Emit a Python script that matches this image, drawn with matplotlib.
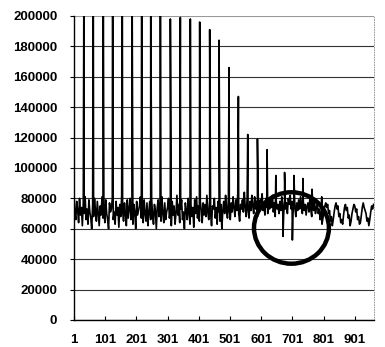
import numpy as np
import matplotlib
matplotlib.use("Agg")
import matplotlib.pyplot as plt
from matplotlib.patches import Ellipse

# daily series, baseline read every 3rd day (values in thousands)
base_days = np.arange(1, 962, 3)
base_k = [
    85, 70, 66, 78, 72, 64, 80, 69, 74, 62,
    77, 70, 81, 66, 73, 63, 79, 71, 67, 60,
    76, 68, 80, 72, 65, 78, 70, 62, 75, 69,
    81, 67, 74, 64, 79, 70, 66, 60, 77, 71,
    73, 80, 66, 71, 63, 78, 69, 74, 61, 76,
    68, 82, 72, 65, 77, 70, 62, 79, 67, 73,
    80, 66, 74, 63, 76, 71, 60, 78, 69, 72,
    75, 81, 67, 73, 64, 79, 70, 65, 77, 62,
    71, 78, 66, 80, 69, 63, 76, 72, 60, 74,
    79, 68, 73, 65, 81, 70, 64, 77, 66, 71,
    74, 80, 67, 72, 62, 78, 69, 75, 63, 70,
    82, 69, 76, 64, 73, 79, 66, 71, 60, 77,
    72, 66, 80, 70, 63, 76, 68, 74, 61, 79,
    70, 81, 67, 75, 65, 78, 72, 64, 77, 69,
    76, 68, 82, 71, 66, 79, 70, 62, 75, 73,
    80, 67, 74, 63, 78, 71, 65, 76, 60, 72,
    78, 70, 82, 73, 67, 80, 72, 66, 77, 71,
    81, 74, 68, 79, 72, 83, 70, 65, 76, 73,
    79, 71, 84, 74, 68, 80, 73, 67, 78, 72,
    82, 75, 70, 81, 73, 78, 68, 76, 71, 79,
    77, 83, 72, 76, 69, 80, 74, 70, 78, 73,
    80, 74, 82, 71, 77, 68, 79, 73, 76, 70,
    78, 72, 81, 75, 69, 79, 73, 77, 70, 80,
    76, 82, 73, 78, 70, 80, 74, 68, 77, 72,
    79, 73, 81, 74, 70, 78, 72, 76, 69, 75,
    77, 71, 80, 73, 68, 76, 72, 78, 70, 74,
    76, 70, 73, 66, 69, 63, 67, 72, 75, 77,
    74, 76, 70, 72, 65, 68, 62, 66, 71, 75,
    77, 73, 75, 68, 70, 64, 66, 63, 69, 74,
    76, 72, 74, 67, 69, 62, 65, 70, 73, 76,
    75, 71, 73, 66, 68, 63, 64, 69, 74, 77,
    74, 72, 70, 65, 67, 62, 66, 71, 75, 73,
    76,
]

# monthly peaks (day, value in thousands); first ones run off the top
spike_days = [33, 63, 95, 125, 156, 187, 218, 247, 278, 310, 342, 374,
              404, 436, 466, 498, 528, 558, 589, 620, 648, 676, 706, 735,
              764, 795]
spike_k = [225, 240, 230, 245, 235, 250, 240, 230, 225, 198, 199, 198,
           196, 191, 184, 166, 147, 122, 119, 112, 95, 97, 95, 93,
           86, 81]

# the two drops inside the circled area
dip_days = [671, 701]
dip_k = [55, 52.6]

days = np.concatenate([base_days, spike_days, dip_days])
vals = np.concatenate([base_k, spike_k, dip_k]) * 1000
order = np.argsort(days, kind="stable")
days, vals = days[order], vals[order]

yticks = np.arange(0, 200001, 20000)
xticks = np.arange(1, 902, 100)
circle_center = (698, 60500)

plt.rcParams['font.family'] = ['Liberation Sans', 'DejaVu Sans']
fig = plt.figure(figsize=(3.85, 3.47), dpi=100)
ax = fig.add_axes([0.192, 0.078, 0.779, 0.876])

for y in yticks:
    ax.axhline(y, color="#333333" if y < 200000 else "#999999", lw=0.8, zorder=1)
ax.plot(days, vals, color="black", lw=1.2, zorder=2)

ax.add_patch(Ellipse(circle_center, width=240, height=47000, fill=False,
                     edgecolor="black", lw=3.2, zorder=3, clip_on=False))

ax.set_xlim(1, 962)
ax.set_ylim(0, 200000)
ax.set_yticks(yticks)
ax.set_yticklabels([str(v) for v in yticks])
ax.set_xticks(xticks)
ax.set_xticklabels([str(v) for v in xticks])
ax.tick_params(axis="x", direction="in", length=3, pad=10, labelsize=9.5)
ax.tick_params(axis="y", direction="out", length=3, pad=9, labelsize=9.5)
for lab in ax.get_xticklabels() + ax.get_yticklabels():
    lab.set_fontweight("bold")

ax.spines["top"].set_visible(False)
ax.spines["right"].set_linestyle((0, (1, 2)))
ax.spines["right"].set_color("#888888")
ax.spines["right"].set_linewidth(0.6)
ax.spines["left"].set_linewidth(1.0)
ax.spines["bottom"].set_linewidth(1.0)

fig.savefig("out.png", dpi=100)
